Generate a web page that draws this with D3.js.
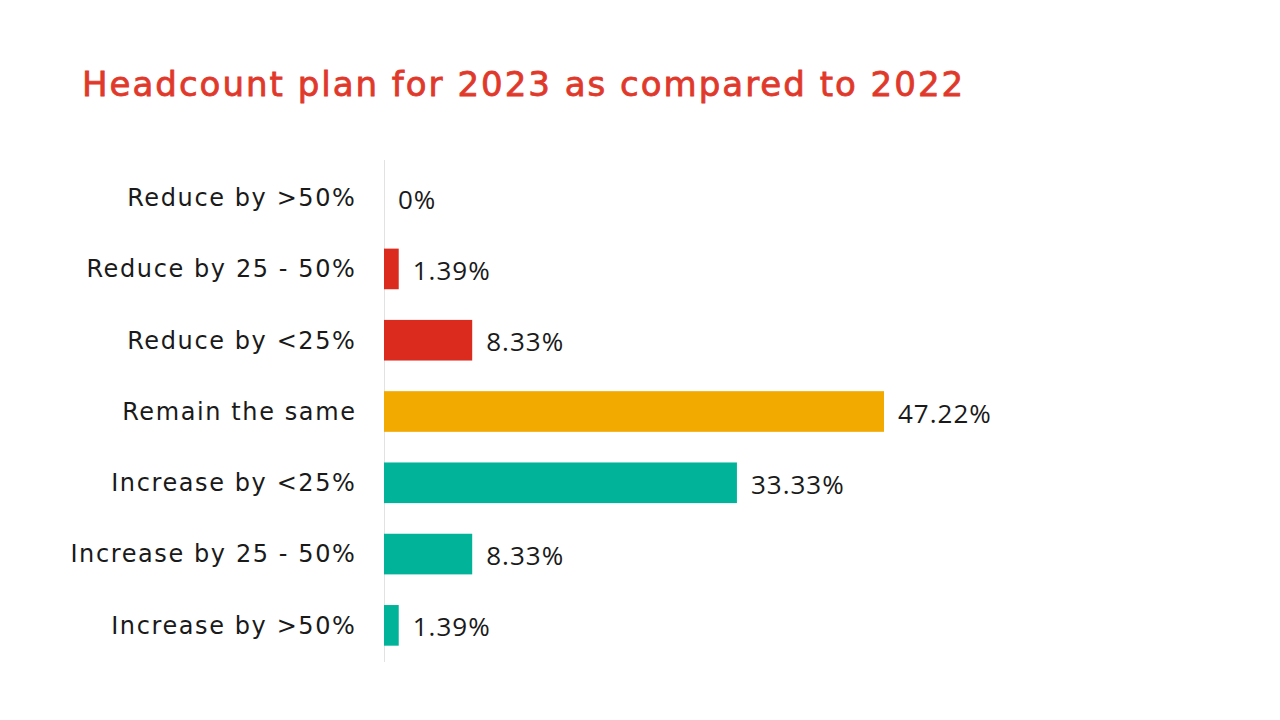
<!DOCTYPE html>
<html>
<head>
<meta charset="utf-8">
<script src="https://cdn.jsdelivr.net/npm/d3@7"></script>
<style>
  body { margin: 0; background: #ffffff; }
  svg { display: block; }
</style>
</head>
<body>
<div id="chart"></div>
<script>
// chart data
var categories = ["Reduce by >50%", "Reduce by 25 - 50%", "Reduce by <25%", "Remain the same",
                  "Increase by <25%", "Increase by 25 - 50%", "Increase by >50%"];
var values = [0, 1.39, 8.33, 47.22, 33.33, 8.33, 1.39];
var valueLabels = ["0%", "1.39%", "8.33%", "47.22%", "33.33%", "8.33%", "1.39%"];
var groups = ["reduce", "reduce", "reduce", "same", "increase", "increase", "increase"];

var title = "Headcount plan for 2023 as compared to 2022";

var width = 1280, height = 720;
var x0 = 384;

var svg = d3.select("#chart")
  .append("svg")
  .attr("width", width)
  .attr("height", height);

var x = d3.scaleLinear()
  .domain([0, 47.22])
  .range([x0, 884]);

var y = d3.scaleBand()
  .domain(categories)
  .range([162, 661])
  .paddingInner(0.43)
  .paddingOuter(0.215);

var color = d3.scaleOrdinal()
  .domain(["reduce", "same", "increase"])
  .range(["#db2a1e", "#f2a900", "#00b399"]);

svg.append("text")
  .attr("x", 82)
  .attr("y", 96)
  .attr("fill", "#e0392b")
  .attr("stroke", "#e0392b")
  .attr("stroke-width", 0.8)
  .style("font-family", "'DejaVu Sans', sans-serif")
  .style("font-size", "34px")
  .style("letter-spacing", "2px")
  .text(title);

// axis line
svg.append("line")
  .attr("x1", x0 + 0.5).attr("x2", x0 + 0.5)
  .attr("y1", 160).attr("y2", 662)
  .attr("stroke", "#e2e2e2")
  .attr("stroke-width", 1);

var rows = svg.selectAll(".row")
  .data(categories)
  .enter()
  .append("g")
  .attr("class", "row");

rows.append("rect")
  .attr("x", x0)
  .attr("y", function(d) { return y(d); })
  .attr("width", function(d, i) { return x(values[i]) - x0; })
  .attr("height", y.bandwidth())
  .attr("fill", function(d, i) { return color(groups[i]); });

rows.append("text")
  .attr("x", 356.5)
  .attr("y", function(d) { return y(d) + y.bandwidth() / 2; })
  .attr("dy", "0.35em")
  .attr("text-anchor", "end")
  .attr("fill", "#1a1a1a")
  .style("font-family", "'DejaVu Sans', sans-serif")
  .style("font-size", "24px")
  .style("letter-spacing", "1.6px")
  .text(function(d) { return d; });

rows.append("text")
  .attr("x", function(d, i) { return x(values[i]) + 14; })
  .attr("y", function(d) { return y(d) + y.bandwidth() / 2 + 2; })
  .attr("dy", "0.35em")
  .attr("fill", "#1a1a1a")
  .style("font-family", "'Open Sans', 'Noto Sans', sans-serif")
  .style("font-size", "26px")
  .style("letter-spacing", "1px")
  .text(function(d, i) { return valueLabels[i]; });
</script>
</body>
</html>
